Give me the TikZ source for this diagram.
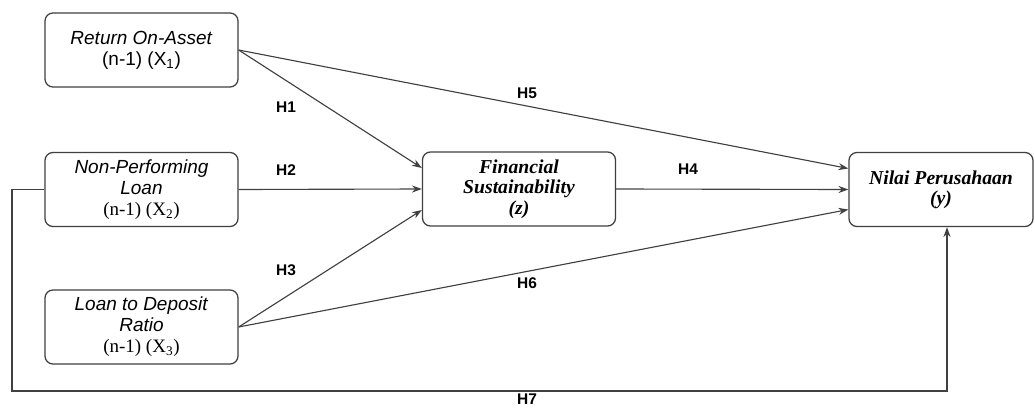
\documentclass[tikz,border=0pt]{standalone}
\usepackage{fontspec}
\setmainfont{Liberation Serif}
\setsansfont{Liberation Sans}
\usetikzlibrary{arrows.meta}
\tikzset{
  box/.style={draw=black!75, line width=0.9pt, rounded corners=0.2cm, fill=white,
    minimum width=4.825cm, minimum height=1.85cm, align=center, inner sep=2pt},
  sbox/.style={box, font=\sffamily\fontsize{13.5}{15}\selectfont},
  rbox/.style={box, font=\rmfamily\bfseries\itshape\fontsize{14}{14.5}\selectfont},
  arr/.style={draw=black!75, line width=0.8pt, -{Stealth[length=7pt,width=5pt]}},
  lbl/.style={font=\sffamily\bfseries\fontsize{11}{13}\selectfont, inner sep=0pt}
}
\begin{document}
\begin{tikzpicture}[x=0.025cm, y=-0.025cm]
\useasboundingbox (0,0) rectangle (1035,408);
\node[sbox] (roa) at (141.5,50) {\textit{Return On-Asset}\\(n-1) (X\textsubscript{1})};
\node[sbox] (npl) at (141.5,189.5) {\textit{Non-Performing}\\\textit{Loan}\\\rmfamily(n-1) (X\textsubscript{2})};
\node[sbox] (ldr) at (141.5,327) {\textit{Loan to Deposit}\\\textit{Ratio}\\\rmfamily(n-1) (X\textsubscript{3})};
\node[rbox] (fs) at (519,189) {Financial\\Sustainability\\(z)};
\node[rbox, minimum width=4.6cm] (np) at (941,189.5) {Nilai Perusahaan\\(y)};
\coordinate (bl) at (12,391);
\coordinate (br) at (947,391);
\draw[arr] (roa.east) -- ([yshift=0.525cm]fs.west);
\draw[arr] (npl.east) -- (fs.west);
\draw[arr] (ldr.east) -- ([yshift=-0.525cm]fs.west);
\draw[arr] (roa.east) -- ([yshift=0.525cm]np.west);
\draw[arr] (fs.east) -- (np.west);
\draw[arr] (ldr.east) -- ([yshift=-0.5cm]np.west);
\draw[arr] (npl.west) -| (bl) -- (br) -- (br |- np.south);
\node[lbl] (h1) at (286,107) {H1};
\node[lbl] (h2) at (286,170) {H2};
\node[lbl] (h3) at (286,270) {H3};
\node[lbl] (h4) at (688,169) {H4};
\node[lbl] (h5) at (527,93) {H5};
\node[lbl] (h6) at (527,283) {H6};
\node[lbl] (h7) at (527,399.5) {H7};
\end{tikzpicture}
\end{document}
